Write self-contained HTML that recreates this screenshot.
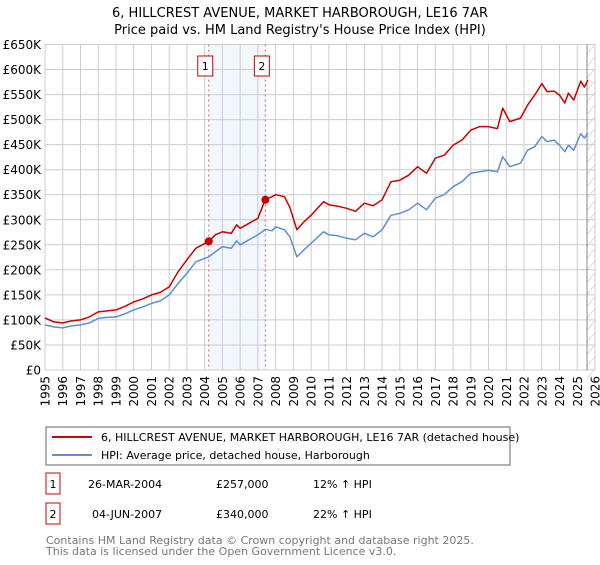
<!DOCTYPE html>
<html><head><meta charset="utf-8"><style>
body{margin:0;background:#fff;font-family:"Liberation Sans","DejaVu Sans",sans-serif;}
svg text{font-family:"DejaVu Sans","Liberation Sans",sans-serif;}
</style></head><body>
<svg id="chart" width="600" height="560" viewBox="0 0 600 560" xmlns="http://www.w3.org/2000/svg">
<text x="300" y="17" text-anchor="middle" font-size="13" fill="#000">6, HILLCREST AVENUE, MARKET HARBOROUGH, LE16 7AR</text>
<text x="300" y="34" text-anchor="middle" font-size="13" fill="#000">Price paid vs. HM Land Registry's House Price Index (HPI)</text>
<g id="grid"></g>
<g id="marks"></g>
<g id="axes"></g>
<g>
<rect x="46" y="427" width="464" height="38" fill="#fff" stroke="#666"/>
<line x1="52" y1="437" x2="92" y2="437" stroke="#cc0000" stroke-width="2"/>
<text x="101" y="441" font-size="11">6, HILLCREST AVENUE, MARKET HARBOROUGH, LE16 7AR (detached house)</text>
<line x1="52" y1="455" x2="92" y2="455" stroke="#5b8fd0" stroke-width="2"/>
<text x="101" y="459" font-size="11">HPI: Average price, detached house, Harborough</text>
</g>
<g>
<rect x="46" y="473" width="14" height="21" fill="#fff" stroke="#cc0000"/>
<text x="53" y="488" text-anchor="middle" font-size="11">1</text>
<text x="88" y="488" font-size="11">26-MAR-2004</text>
<text x="216" y="488" font-size="11">£257,000</text>
<text x="313" y="488" font-size="11">12% ↑ HPI</text>
<rect x="46" y="503" width="14" height="21" fill="#fff" stroke="#cc0000"/>
<text x="53" y="518" text-anchor="middle" font-size="11">2</text>
<text x="92" y="518" font-size="11">04-JUN-2007</text>
<text x="216" y="518" font-size="11">£340,000</text>
<text x="313" y="518" font-size="11">22% ↑ HPI</text>
</g>
<text x="46" y="544" font-size="11" fill="#777">Contains HM Land Registry data © Crown copyright and database right 2025.</text>
<text x="46" y="555" font-size="11" fill="#777">This data is licensed under the Open Government Licence v3.0.</text>
</svg>
<script>
const years=[1995,1996,1997,1998,1999,2000,2001,2002,2003,2004,2005,2006,2007,2008,2009,2010,2011,2012,2013,2014,2015,2016,2017,2018,2019,2020,2021,2022,2023,2024,2025,2026];
const yTicks=[0,50000,100000,150000,200000,250000,300000,350000,400000,450000,500000,550000,600000,650000];
const yTickLabels=["£0","£50K","£100K","£150K","£200K","£250K","£300K","£350K","£400K","£450K","£500K","£550K","£600K","£650K"];
const dates=[1995.0,1995.5,1996.0,1996.5,1997.0,1997.5,1998.0,1998.5,1999.0,1999.5,2000.0,2000.5,2001.0,2001.5,2002.0,2002.5,2003.0,2003.5,2004.23,2004.6,2005.0,2005.5,2005.8,2006.0,2006.5,2007.0,2007.42,2007.8,2008.0,2008.5,2008.8,2009.2,2009.6,2010.0,2010.7,2011.0,2011.5,2012.0,2012.5,2013.0,2013.5,2014.0,2014.5,2015.0,2015.5,2016.0,2016.5,2017.0,2017.5,2018.0,2018.5,2019.0,2019.5,2020.0,2020.5,2020.8,2021.2,2021.8,2022.2,2022.6,2023.0,2023.3,2023.7,2024.0,2024.3,2024.5,2024.8,2025.2,2025.4,2025.6];
const hpiValues=[90000,86000,84000,88000,90000,94000,103000,105000,106000,112000,120000,126000,133000,138000,150000,173000,193000,216000,226000,236000,246000,243000,258000,250000,260000,270000,281000,278000,286000,280000,266000,226000,240000,253000,276000,270000,268000,263000,260000,273000,266000,280000,309000,313000,320000,333000,320000,343000,350000,366000,376000,393000,396000,399000,396000,426000,406000,413000,439000,446000,466000,456000,459000,449000,436000,449000,439000,472000,463000,473000];
const priceValues=[104000,96000,94000,98000,100000,106000,116000,118000,120000,127000,136000,142000,150000,155000,166000,196000,220000,243000,257000,270000,276000,273000,290000,283000,293000,303000,341000,346000,350000,346000,325000,280000,296000,309000,336000,330000,327000,323000,317000,333000,328000,340000,376000,379000,389000,406000,393000,423000,429000,449000,459000,479000,486000,486000,482000,523000,496000,503000,529000,549000,572000,556000,557000,549000,533000,553000,539000,577000,565000,579000];
const sales=[{d:2004.23,v:257000,n:"1"},{d:2007.42,v:340000,n:"2"}];
const X0=45,X1=595,Y0=370,Y1=44.5;
function xs(t){return X0+(t-1995)/(2026-1995)*(X1-X0);}
function ys(v){return Y0-v/650000*(Y0-Y1);}
const NS="http://www.w3.org/2000/svg";
function mk(tag,attrs,parent){const e=document.createElementNS(NS,tag);for(const k in attrs)e.setAttribute(k,attrs[k]);parent.appendChild(e);return e;}
const grid=document.getElementById('grid'),marks=document.getElementById('marks'),axes=document.getElementById('axes');
let sh=mk('rect',{x:xs(sales[0].d),y:Y1,width:xs(sales[1].d)-xs(sales[0].d),height:Y0-Y1,fill:'#f2f6fd'},grid);


const hatchX=xs(2025.55);
let hb=mk('rect',{x:hatchX,y:Y1,width:X1-hatchX,height:Y0-Y1,fill:'#fff'},grid);


for(let y=Y1;y<Y0;y+=12){let h=mk('line',{x1:hatchX,y1:y+10,x2:X1,y2:y,stroke:'#ccc','stroke-width':0.7},grid);

}
years.forEach(y=>{let l=mk('line',{x1:xs(y),y1:Y1,x2:xs(y),y2:Y0,stroke:'#cccccc','stroke-width':1},grid);


let t=mk('text',{x:0,y:0,'font-size':12,'text-anchor':'end',transform:`translate(${xs(y)+4.5},376) rotate(-90)`},axes);t.textContent=y;

});
yTicks.forEach((v,i)=>{let l=mk('line',{x1:X0,y1:ys(v),x2:X1,y2:ys(v),stroke:'#cccccc','stroke-width':1},grid);


let t=mk('text',{x:X0-4,y:ys(v)+4.5,'font-size':12,'text-anchor':'end'},axes);t.textContent=yTickLabels[i];

});
let vl=mk('line',{x1:hatchX,y1:Y1,x2:hatchX,y2:Y0,stroke:'#888','stroke-width':1},grid);


sales.forEach(s=>{let l=mk('line',{x1:xs(s.d),y1:Y1,x2:xs(s.d),y2:Y0,stroke:'#e06060','stroke-width':1,'stroke-dasharray':'2,3'},marks);

});
function path(vals,color,name){const d=dates.map((t,i)=>(i?'L':'M')+xs(t).toFixed(1)+','+ys(vals[i]).toFixed(1)).join(' ');
let p=mk('path',{d:d,fill:'none',stroke:color,'stroke-width':1.5,'stroke-linejoin':'round'},marks);

}
path(hpiValues,'#5b8fd0','hpi-line');
path(priceValues,'#cc0000','property-price-line');
sales.forEach(s=>{let c=mk('circle',{cx:xs(s.d),cy:ys(s.v),r:4,fill:'#cc0000'},marks);


let b=mk('rect',{x:xs(s.d)-11,y:56,width:15,height:20,fill:'#fff',stroke:'#cc0000'},marks);


let t=mk('text',{x:xs(s.d)-3.5,y:70,'font-size':11,'text-anchor':'middle'},marks);t.textContent=s.n;

});
</script>
</body></html>
